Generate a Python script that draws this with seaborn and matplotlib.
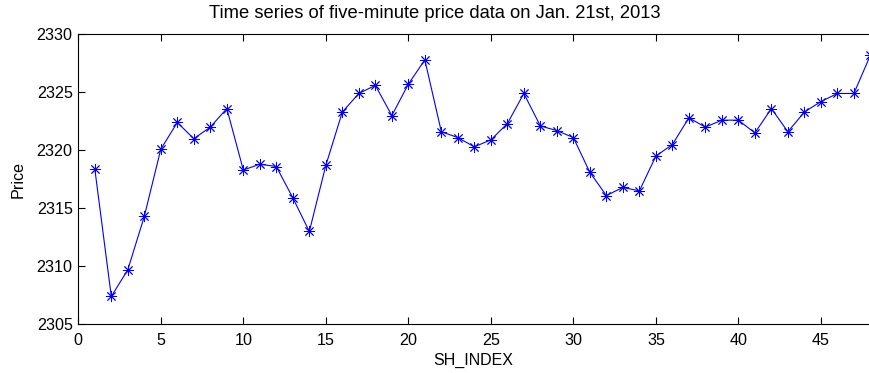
import matplotlib
matplotlib.use("Agg")
import matplotlib.pyplot as plt
import seaborn as sns
import pandas as pd

index = list(range(1, 49))
price = [2318.4, 2307.4, 2309.7, 2314.3, 2320.1, 2322.4, 2321.0, 2322.0, 2323.6, 2318.3,
         2318.8, 2318.6, 2315.9, 2313.0, 2318.7, 2323.3, 2324.9, 2325.6, 2323.0, 2325.7,
         2327.8, 2321.6, 2321.1, 2320.3, 2320.9, 2322.3, 2324.9, 2322.1, 2321.7, 2321.1,
         2318.1, 2316.1, 2316.8, 2316.5, 2319.5, 2320.5, 2322.8, 2322.0, 2322.6, 2322.6,
         2321.5, 2323.6, 2321.6, 2323.3, 2324.2, 2324.9, 2324.9, 2328.2]
xticks = [0, 5, 10, 15, 20, 25, 30, 35, 40, 45]
yticks = [2305, 2310, 2315, 2320, 2325, 2330]

title = "Time series of five-minute price data on Jan. 21st, 2013"
xlabel = "SH_INDEX"
ylabel = "Price"

sns.set_theme(style="white")
plt.rcParams['font.family'] = ['Liberation Sans', 'DejaVu Sans']

df = pd.DataFrame({"SH_INDEX": index, "Price": price})

fig = plt.figure(figsize=(8.69, 3.73), dpi=100)
ax = fig.add_axes([0.0901, 0.1306, 0.9115, 0.7774])

sns.lineplot(data=df, x="SH_INDEX", y="Price", ax=ax, color="#0000ff",
             linewidth=0.8, marker=(8, 2, 0), markersize=8,
             markeredgecolor="#0000ff", markeredgewidth=0.65)

ax.set_xlim(0, 48)
ax.set_ylim(2305, 2330)
ax.set_xticks(xticks)
ax.set_yticks(yticks)
ax.set_xticklabels([str(t) for t in xticks], fontsize=11.6)
ax.set_yticklabels([str(t) for t in yticks], fontsize=11.6)
ax.tick_params(direction="in", length=5, width=0.8, color="black",
               top=True, right=False, bottom=True, left=True, labelcolor="black")
ax.tick_params(axis="y", pad=4)
ax.tick_params(axis="x", pad=6)
for s in ax.spines.values():
    s.set_color("black")
    s.set_linewidth(0.8)
    s.set_visible(True)

ax.text(0.5, 1.0 - 13.7 / 373.0, title, transform=fig.transFigure,
        ha="center", va="center", fontsize=13.2, color="black")
fig.text((78.3 + 868.9) / 2 / 869.0, 1.0 - 360.0 / 373.0, xlabel,
         ha="center", va="center", fontsize=11.5, color="black")
fig.text(18.0 / 869.0, 1.0 - 179.5 / 373.0, ylabel, rotation=90,
         ha="center", va="center", fontsize=11.6, color="black")
ax.set_xlabel("")
ax.set_ylabel("")

fig.savefig("out.png", dpi=100, facecolor="white")
